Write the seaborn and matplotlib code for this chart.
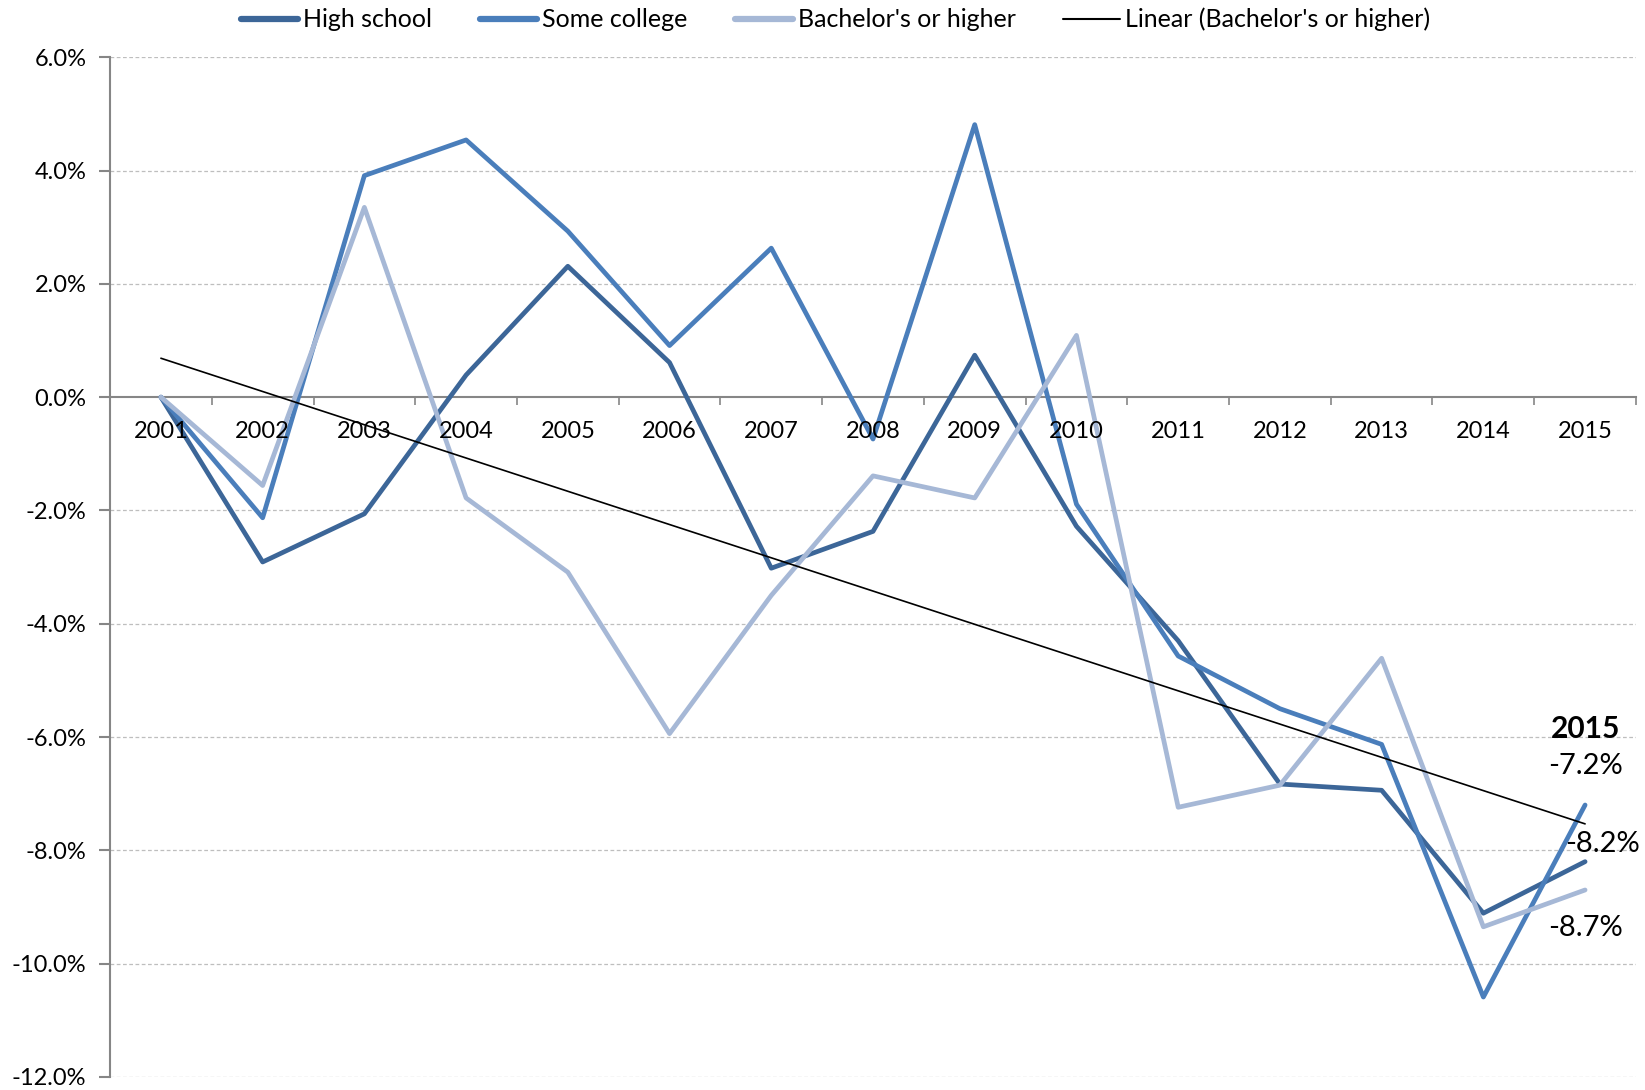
import numpy as np
import pandas as pd
import matplotlib
matplotlib.use("Agg")
import matplotlib.pyplot as plt
import seaborn as sns
from matplotlib.lines import Line2D

years = ["2001", "2002", "2003", "2004", "2005", "2006", "2007", "2008",
         "2009", "2010", "2011", "2012", "2013", "2014", "2015"]
high_school = [0.0, -2.91, -2.06, 0.39, 2.31, 0.61, -3.02, -2.37,
               0.74, -2.28, -4.30, -6.83, -6.94, -9.11, -8.2]
some_college = [0.0, -2.13, 3.91, 4.54, 2.93, 0.91, 2.63, -0.74,
                4.81, -1.89, -4.57, -5.50, -6.13, -10.59, -7.2]
bachelors = [0.0, -1.56, 3.35, -1.78, -3.09, -5.94, -3.50, -1.39,
             -1.78, 1.09, -7.24, -6.85, -4.61, -9.35, -8.7]
series_names = ["High school", "Some college", "Bachelor's or higher"]
colors = ["#3C6698", "#4A7EBB", "#A6B8D6"]
y_ticks = [6, 4, 2, 0, -2, -4, -6, -8, -10, -12]
end_labels = ["-7.2%", "-8.2%", "-8.7%"]

sns.set_style("white")
plt.rcParams["font.family"] = ["Lato", "DejaVu Sans"]
plt.rcParams["text.color"] = "black"

rows = []
for name, vals in zip(series_names, [high_school, some_college, bachelors]):
    for i, v in enumerate(vals):
        rows.append({"idx": i, "year": years[i], "value": v, "series": name})
df = pd.DataFrame(rows)

fig = plt.figure(figsize=(16.45, 10.9), dpi=100)
ax = fig.add_axes([0.0669, 0.012, 0.9276, 0.9355])

sns.lineplot(data=df, x="idx", y="value", hue="series", hue_order=series_names,
             palette=colors, linewidth=3.4, ax=ax, legend=False,
             solid_joinstyle="round", solid_capstyle="round")

# linear trend of Bachelor's or higher
xi = np.arange(len(years))
coef = np.polyfit(xi, bachelors, 1)
ax.plot(xi, np.polyval(coef, xi), color="black", lw=1.2, zorder=5)

ax.set_xlim(-0.5, len(years) - 0.5)
ax.set_ylim(-12, 6)
ax.set_yticks(y_ticks)
ax.set_yticklabels([f"{t:.1f}%" for t in y_ticks])
ax.set_xticks(xi)
ax.set_xticklabels(years)
ax.set_xticks(np.arange(-0.5, len(years)), minor=True)
ax.tick_params(axis="x", which="major", bottom=True, length=0, pad=17, labelsize=17,
               labelcolor="black")
ax.tick_params(axis="x", which="minor", bottom=True, length=6, width=1.2,
               color="#868686", direction="out")
ax.tick_params(axis="y", left=True, length=8, width=1.5, color="#868686", pad=9,
               labelsize=17, labelcolor="black", direction="out")
ax.set_xlabel("")
ax.set_ylabel("")
ax.xaxis.set_zorder(3)

for t in y_ticks:
    if t != 0:
        ax.axhline(t, color="#BEBEBE", lw=0.9, ls=(0, (3, 2)), zorder=0)

ax.spines["top"].set_visible(False)
ax.spines["right"].set_visible(False)
ax.spines["bottom"].set_position(("data", 0))
for s in ("bottom", "left"):
    ax.spines[s].set_color("#868686")
    ax.spines[s].set_linewidth(1.5)
    ax.spines[s].set_zorder(1)

# end annotations
ax.text(14, -5.85, "2015", ha="center", va="center", fontsize=21.5, fontweight="bold")
ax.text(14, -6.52, end_labels[0], ha="center", va="center", fontsize=21)
ax.text(14.17, -7.88, end_labels[1], ha="center", va="center", fontsize=21)
ax.text(14, -9.38, end_labels[2], ha="center", va="center", fontsize=21)

handles = [Line2D([0], [0], color=c, lw=4.5) for c in colors]
handles.append(Line2D([0], [0], color="black", lw=1.5))
labels = series_names + ["Linear (Bachelor's or higher)"]
fig.legend(handles, labels, loc="center", bbox_to_anchor=(0.508, 0.982), ncol=4,
           frameon=False, fontsize=18, handlelength=2.3, handletextpad=0.2,
           columnspacing=1.9)

fig.savefig("out.png", dpi=100)
